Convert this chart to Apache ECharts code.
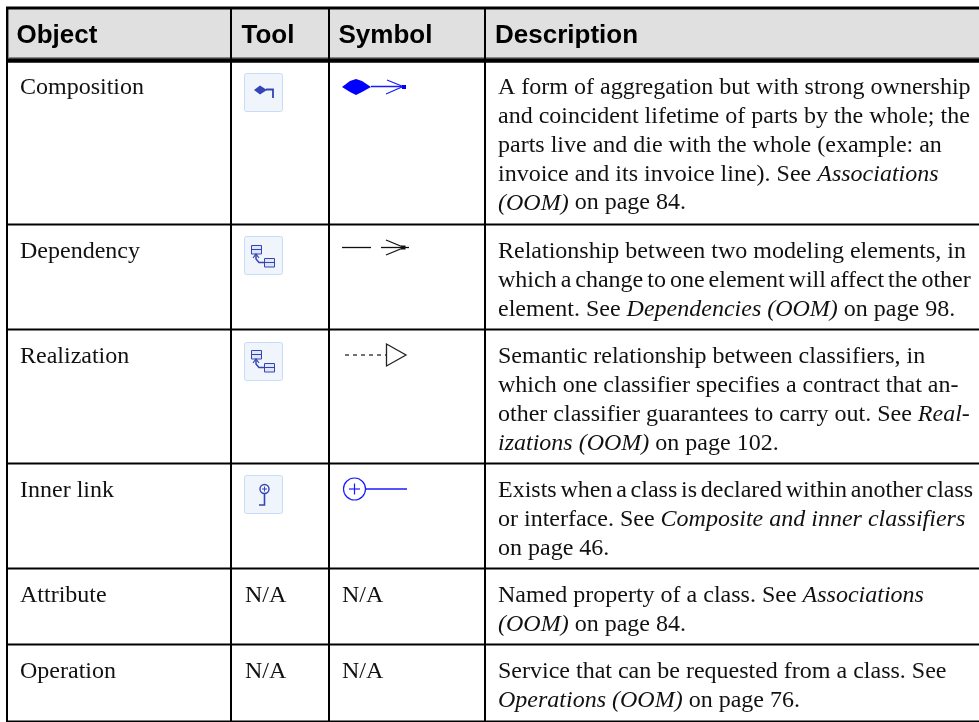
<!DOCTYPE html>
<html>
<head>
<meta charset="utf-8">
<title>Object table</title>
<script src="https://cdn.jsdelivr.net/npm/echarts@6/dist/echarts.min.js"></script>
<style>
html,body{margin:0;padding:0;background:#fff}
#box{width:979px;height:722px}
</style>
</head>
<body>
<div id="box"></div>
<script>
// table content
var headers = ['Object', 'Tool', 'Symbol', 'Description'];
var objects = ['Composition', 'Dependency', 'Realization', 'Inner link', 'Attribute', 'Operation'];
var tools = ['', '', '', '', 'N/A', 'N/A'];
var symbols = ['', '', '', '', 'N/A', 'N/A'];
// {i|..} marks the italic parts
var descriptions = [
	['A form of aggregation but with strong ownership',
	 'and coincident lifetime of parts by the whole; the',
	 'parts live and die with the whole (example: an',
	 'invoice and its invoice line). See {i|Associations}',
	 '{i|(OOM)} on page 84.'],
	['Relationship between two modeling elements, in',
	 'which a change to one element will affect the other',
	 'element. See {i|Dependencies (OOM)} on page 98.'],
	['Semantic relationship between classifiers, in',
	 'which one classifier specifies a contract that an-',
	 'other classifier guarantees to carry out. See {i|Real-}',
	 '{i|izations (OOM)} on page 102.'],
	['Exists when a class is declared within another class',
	 'or interface. See {i|Composite and inner classifiers}',
	 'on page 46.'],
	['Named property of a class. See {i|Associations}',
	 '{i|(OOM)} on page 84.'],
	['Service that can be requested from a class. See',
	 '{i|Operations (OOM)} on page 76.']
];

// layout
var colLines = [7, 231, 329, 485];
var rowLines = [60, 224, 329, 463, 568, 644, 721];
var textX = [20, 245, 342, 498];
var headX = [16.5, 241.5, 338.5, 495];
var lineStep = 28.8;
var INK = '#111', BLUE = '#1a1aff', ICON = '#3344b4';
// the justified lines that had their word gaps squeezed: row,line -> font size of the gap
var tightGaps = {'1,1':16, '3,0':15};

var els = [];

function line(x1, y1, x2, y2, w, color, dash){
	els.push({type:'line', shape:{x1:x1,y1:y1,x2:x2,y2:y2},
		style:{stroke:color||'#000', lineWidth:w||2, lineDash:dash||null}});
}
function poly(pts, color, w){
	els.push({type:'polyline', shape:{points:pts}, style:{stroke:color, lineWidth:w||1, fill:null}});
}
function solid(pts, color){
	els.push({type:'polygon', shape:{points:pts}, style:{fill:color}});
}
function box(x, y, w, h, fill, stroke, r){
	els.push({type:'rect', shape:{x:x,y:y,width:w,height:h,r:r||0},
		style:{fill:fill||'transparent', stroke:stroke||null, lineWidth:stroke?1:0}});
}
function bodyText(x, y, s, gap){
	var rich = {i:{fontStyle:'italic', fontFamily:'Liberation Serif', fontSize:24, fill:INK}};
	if(gap){
		rich.s = {fontFamily:'Liberation Serif', fontSize:gap, fill:INK};
		s = s.replace(/ /g, '{s| }');
	}
	els.push({type:'text', x:x, y:y, style:{
		text:s, fill:INK, font:'24px "Liberation Serif"', textVerticalAlign:'middle', rich:rich
	}});
}

// header band
box(7, 9, 990, 49, '#e0e0e0');
line(7, 57.5, 979, 57.5, 1, '#888');
line(8.5, 9, 8.5, 58, 1, '#888');
headers.forEach(function(h, i){
	els.push({type:'text', x:headX[i], y:36, style:{
		text:h, fill:'#000', font:'bold 26px "Liberation Sans"', textVerticalAlign:'middle'
	}});
});

// rules
line(6, 8, 979, 8, 3);
line(7, 60.5, 979, 60.5, 4.5);
rowLines.slice(1).forEach(function(y){ line(6, y+0.5, 979, y+0.5, 2); });
colLines.forEach(function(x){ line(x, 7, x, 722, 2); });

// cell text
objects.forEach(function(o, r){
	var y = rowLines[r] + 28;
	bodyText(textX[0], y, o);
	if(tools[r]) bodyText(textX[1], y, tools[r]);
	if(symbols[r]) bodyText(textX[2], y, symbols[r]);
	descriptions[r].forEach(function(t, k){
		bodyText(textX[3], y + k*lineStep, t, tightGaps[r+','+k]);
	});
});

// tool buttons
function button(y){ box(244.5, y+0.5, 38, 38, '#f0f5fc', '#c6dcf8', 2); }
button(73); button(236); button(342); button(475);

// composition tool icon
solid([[254,90],[260,85.5],[267,90],[260,94.5]], ICON);
poly([[266,89.5],[273,89.5],[273,98]], ICON, 1.8);

// dependency and realization tool icons
[0, 105].forEach(function(dy){
	box(251.5, 245.5+dy, 10, 8.5, '#dfe6fa', ICON);
	line(251.5, 249.5+dy, 261.5, 249.5+dy, 1, ICON);
	box(264.5, 258.5+dy, 10, 8.5, '#dfe6fa', ICON);
	line(264.5, 262.5+dy, 274.5, 262.5+dy, 1, ICON);
	poly([[256,254+dy],[256,259+dy],[259,262.5+dy],[264,262.5+dy]], ICON, 1.5);
	poly([[253,258+dy],[256,254+dy],[259,258+dy]], ICON, 1.2);
});

// inner link tool icon
els.push({type:'circle', shape:{cx:264.5,cy:489,r:4.5}, style:{fill:'#f0f5fc',stroke:ICON,lineWidth:1.4}});
line(262, 489, 267, 489, 1, ICON);
line(264.5, 486.5, 264.5, 491.5, 1, ICON);
poly([[264.5,493.5],[264.5,505],[259,505]], ICON, 1.6);

// composition symbol
solid([[342,87],[350,81],[356,79],[362,81],[371,87],[362,92],[356,95],[350,92]], '#0000ff');
line(371, 86.5, 406, 86.5, 1.4, BLUE);
poly([[387,80],[403,86.5],[386,94]], BLUE, 1.2);
box(402, 85, 4, 4, '#0000ff');

// dependency symbol
line(342, 247.5, 371, 247.5, 1.3, '#111');
line(381, 247.5, 409, 247.5, 1.3, '#111');
poly([[386,240],[404,247.5],[386,255]], '#111', 1.2);
box(401, 245.5, 4.5, 4, '#111');

// realization symbol
line(345, 355, 386, 355, 1.5, '#444', [4, 4]);
els.push({type:'polygon', shape:{points:[[386.5,344],[406,355],[386.5,366]]}, style:{fill:'none',stroke:'#222',lineWidth:1.3}});

// inner link symbol
els.push({type:'circle', shape:{cx:354.5,cy:489,r:11}, style:{fill:'none',stroke:BLUE,lineWidth:1.2}});
line(349, 489, 360, 489, 1.2, BLUE);
line(354.5, 483.5, 354.5, 494.5, 1.2, BLUE);
line(366, 489, 407, 489, 1.4, BLUE);

var myChart = echarts.init(document.getElementById('box'));
myChart.setOption({animation:false, graphic:{elements:els}});
</script>
</body>
</html>
